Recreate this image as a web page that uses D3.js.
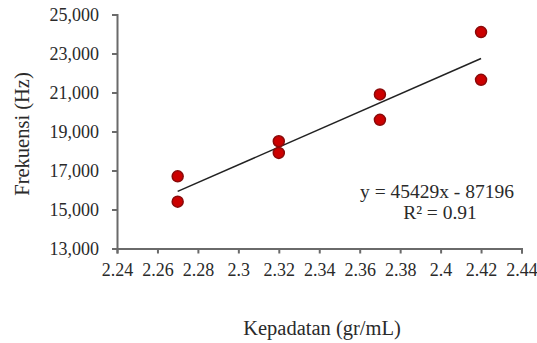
<!DOCTYPE html>
<html><head><meta charset="utf-8">
<script src="https://cdn.jsdelivr.net/npm/d3@7"></script>
<style>body{margin:0;background:#fff}svg{display:block}</style>
</head><body><svg id="c" width="537" height="343"></svg>
<script>
const density = [2.27, 2.27, 2.32, 2.32, 2.37, 2.37, 2.42, 2.42];
const frequency = [16700, 15400, 18500, 17900, 20900, 19600, 24100, 21650];
const xTicks = [2.24, 2.26, 2.28, 2.3, 2.32, 2.34, 2.36, 2.38, 2.4, 2.42, 2.44];
const yTicks = [13000, 15000, 17000, 19000, 21000, 23000, 25000];
const slope = 45429, intercept = -87196, r2 = 0.91;
const trendRange = [2.27, 2.42];

const FONT = "'Liberation Serif', 'Times New Roman', serif";
const TXT = "#2a2a2a";
const svg = d3.select("#c");
const x = d3.scaleLinear().domain([2.24, 2.44]).range([117, 521.5]);
const y = d3.scaleLinear().domain([13000, 25000]).range([248.5, 14.5]);

const xa = svg.append("g").attr("transform", "translate(0,248.5)")
  .call(d3.axisBottom(x).tickValues(xTicks).tickFormat(d => String(+d.toFixed(2))).tickSize(5).tickSizeOuter(5).tickPadding(10));
const ya = svg.append("g").attr("transform", "translate(117,0)")
  .call(d3.axisLeft(y).tickValues(yTicks).tickFormat(d3.format(",")).tickSize(5).tickSizeOuter(5).tickPadding(13));
[xa, ya].forEach(g => {
  g.attr("font-family", null).attr("font-size", null);
  g.select(".domain").attr("stroke", "#6a6a6a").attr("stroke-width", 2);
  g.selectAll(".tick line").attr("stroke", "#6a6a6a").attr("stroke-width", 2);
  g.selectAll("text").attr("style", `font-family:${FONT};font-size:18px`).attr("fill", TXT);
});

svg.append("line")
  .attr("x1", x(trendRange[0])).attr("y1", y(slope * trendRange[0] + intercept))
  .attr("x2", x(trendRange[1])).attr("y2", y(slope * trendRange[1] + intercept))
  .attr("stroke", "#222").attr("stroke-width", 1.5);

svg.selectAll("circle.pt").data(density).enter().append("circle").attr("class", "pt")
  .attr("cx", d => x(d)).attr("cy", (d, i) => y(frequency[i])).attr("r", 5.5)
  .attr("fill", "#cc0000").attr("stroke", "#8a0a0a").attr("stroke-width", 1.5);

function label(xp, yp, size, str, rot) {
  const t = svg.append("text").attr("text-anchor", "middle").attr("fill", TXT)
    .attr("style", `font-family:${FONT};font-size:${size}px`).text(str);
  if (rot) t.attr("transform", `translate(${xp},${yp}) rotate(-90)`);
  else t.attr("x", xp).attr("y", yp);
  return t;
}
label(437, 198, 19.5, `y = ${slope}x - ${Math.abs(intercept)}`);
label(440, 219, 19.5, `R² = ${r2}`);
label(322, 335, 20.5, "Kepadatan (gr/mL)");
label(29, 134, 20.5, "Frekuensi (Hz)", true);
</script></body></html>
